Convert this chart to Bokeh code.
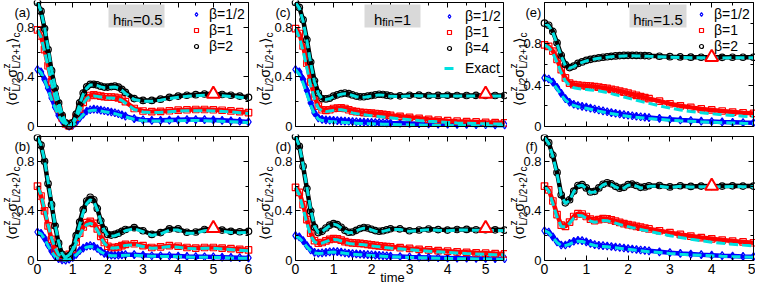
from bokeh.plotting import figure
from bokeh.models import (Range1d, LinearAxis, FixedTicker, Label, BoxAnnotation,
                          Legend, LegendItem)
from bokeh.layouts import column, row
from bokeh.embed import file_html
from bokeh.resources import INLINE

# ---------------- data ----------------
T_AB = [0.0,0.1,0.2,0.3,0.4,0.5,0.6,0.7,0.8,0.9,1.0,1.1,1.2,1.3,1.4,1.5,1.6,1.7,1.8,1.9,
        2.0,2.1,2.2,2.3,2.4,2.5,2.75,3.0,3.25,3.5,3.75,4.0,4.25,4.5,4.75,5.0,5.25,5.5,5.75,6.0]
T_CD = [0.0,0.1,0.2,0.3,0.4,0.5,0.6,0.7,0.8,0.9,1.0,1.1,1.2,1.3,1.4,1.5,1.6,1.7,1.8,1.9,
        2.0,2.1,2.2,2.3,2.4,2.5,2.75,3.0,3.25,3.5,3.75,4.0,4.25,4.5,4.75,5.0,5.25,5.5]
T_EF = [0.0,0.1,0.2,0.3,0.4,0.5,0.6,0.7,0.8,0.9,1.0,1.1,1.2,1.3,1.4,1.5,1.6,1.7,1.8,1.9,
        2.0,2.1,2.2,2.3,2.4,2.5,2.75,3.0,3.25,3.5,3.75,4.0,4.25,4.5,4.75,5.0]

# panel (a): h_fin = 0.5, nearest neighbour
A_HALF = [0.46,0.44,0.38,0.31,0.23,0.155,0.09,0.045,0.015,0.003,0.01,0.035,0.07,0.10,0.125,0.135,0.14,0.137,0.132,0.127,
          0.122,0.117,0.111,0.103,0.094,0.084,0.064,0.053,0.05,0.05,0.052,0.054,0.056,0.056,0.055,0.053,0.05,0.046,0.042,0.037]
A_ONE = [0.78,0.73,0.62,0.49,0.36,0.24,0.14,0.07,0.02,0.005,0.025,0.075,0.14,0.195,0.232,0.25,0.255,0.25,0.245,0.24,
         0.238,0.238,0.236,0.23,0.22,0.20,0.145,0.125,0.12,0.122,0.127,0.132,0.135,0.137,0.137,0.135,0.131,0.126,0.12,0.112]
A_TWO = [1.00,0.93,0.79,0.62,0.45,0.31,0.19,0.09,0.03,0.005,0.03,0.10,0.19,0.27,0.32,0.34,0.34,0.335,0.325,0.318,
         0.318,0.322,0.325,0.318,0.30,0.275,0.225,0.21,0.21,0.22,0.235,0.245,0.252,0.257,0.262,0.262,0.258,0.252,0.245,0.235]
A_HALF_EX = [0.46,0.435,0.375,0.30,0.22,0.15,0.087,0.043,0.014,0.003,0.009,0.032,0.065,0.095,0.118,0.128,0.132,0.13,0.125,0.12,
             0.115,0.11,0.104,0.096,0.087,0.078,0.058,0.047,0.044,0.044,0.046,0.047,0.048,0.048,0.047,0.045,0.042,0.039,0.035,0.031]
A_ONE_EX = [0.78,0.72,0.61,0.48,0.35,0.235,0.14,0.07,0.022,0.005,0.02,0.068,0.13,0.185,0.225,0.243,0.247,0.243,0.238,0.233,
            0.23,0.23,0.228,0.222,0.21,0.19,0.137,0.117,0.112,0.114,0.119,0.124,0.127,0.128,0.128,0.126,0.122,0.117,0.111,0.104]
A_TWO_EX = [1.00,0.93,0.80,0.63,0.46,0.32,0.20,0.10,0.035,0.005,0.025,0.09,0.18,0.26,0.31,0.335,0.335,0.33,0.32,0.312,
            0.312,0.316,0.318,0.31,0.292,0.267,0.218,0.203,0.203,0.212,0.226,0.236,0.243,0.248,0.252,0.252,0.248,0.242,0.236,0.227]

# panel (b): h_fin = 0.5, next-nearest neighbour
B_HALF = [0.23,0.22,0.18,0.125,0.075,0.035,0.015,0.005,0.003,0.01,0.025,0.05,0.08,0.10,0.115,0.12,0.115,0.097,0.075,0.058,
          0.048,0.043,0.042,0.043,0.045,0.047,0.047,0.043,0.038,0.038,0.038,0.036,0.033,0.031,0.03,0.029,0.027,0.025,0.023,0.021]
B_ONE = [0.60,0.52,0.40,0.28,0.17,0.09,0.045,0.025,0.03,0.05,0.09,0.15,0.22,0.27,0.305,0.315,0.30,0.255,0.195,0.145,
         0.115,0.105,0.105,0.11,0.12,0.13,0.135,0.12,0.105,0.11,0.12,0.115,0.105,0.10,0.105,0.105,0.10,0.095,0.09,0.085]
B_TWO = [0.99,0.93,0.80,0.62,0.45,0.28,0.14,0.05,0.02,0.04,0.10,0.20,0.31,0.41,0.48,0.51,0.49,0.42,0.32,0.25,
         0.21,0.205,0.21,0.22,0.235,0.25,0.265,0.24,0.21,0.225,0.255,0.255,0.228,0.23,0.25,0.255,0.245,0.235,0.232,0.235]
B_HALF_EX = [0.23,0.215,0.175,0.12,0.07,0.033,0.013,0.004,0.003,0.009,0.022,0.045,0.073,0.093,0.108,0.113,0.108,0.092,0.071,0.054,
             0.044,0.039,0.038,0.039,0.04,0.042,0.042,0.038,0.034,0.033,0.033,0.031,0.029,0.027,0.026,0.025,0.023,0.021,0.019,0.017]
B_ONE_EX = [0.60,0.53,0.41,0.29,0.18,0.10,0.048,0.025,0.027,0.045,0.082,0.14,0.205,0.255,0.29,0.30,0.288,0.245,0.188,0.14,
            0.11,0.1,0.1,0.104,0.113,0.122,0.127,0.113,0.099,0.103,0.112,0.107,0.098,0.094,0.098,0.098,0.093,0.088,0.083,0.078]
B_TWO_EX = [0.99,0.93,0.81,0.64,0.46,0.29,0.15,0.055,0.02,0.035,0.09,0.18,0.29,0.39,0.46,0.49,0.475,0.41,0.315,0.24,
            0.2,0.195,0.2,0.21,0.225,0.24,0.255,0.232,0.202,0.215,0.245,0.245,0.219,0.221,0.24,0.245,0.236,0.226,0.223,0.226]

# panel (c): h_fin = 1, nearest neighbour
C_HALF = [0.46,0.44,0.38,0.29,0.19,0.11,0.07,0.058,0.053,0.052,0.05,0.048,0.046,0.044,0.042,0.04,0.038,0.036,0.035,0.034,
          0.033,0.032,0.031,0.03,0.029,0.028,0.026,0.024,0.022,0.02,0.019,0.018,0.017,0.016,0.015,0.014,0.013,0.013]
C_ONE = [0.79,0.75,0.65,0.51,0.36,0.24,0.165,0.135,0.13,0.135,0.145,0.148,0.15,0.145,0.135,0.125,0.12,0.115,0.112,0.11,
         0.108,0.105,0.102,0.098,0.094,0.09,0.082,0.074,0.066,0.058,0.052,0.047,0.043,0.04,0.037,0.034,0.032,0.03]
C_FOUR = [1.00,0.96,0.86,0.70,0.52,0.37,0.27,0.225,0.222,0.228,0.245,0.255,0.265,0.27,0.265,0.255,0.245,0.24,0.24,0.245,
          0.25,0.255,0.26,0.258,0.253,0.248,0.247,0.252,0.253,0.25,0.251,0.252,0.25,0.25,0.251,0.25,0.25,0.25]
C_HALF_EX = [0.46,0.42,0.35,0.26,0.17,0.10,0.06,0.048,0.043,0.041,0.039,0.037,0.035,0.033,0.031,0.029,0.027,0.025,0.024,0.023,
             0.022,0.021,0.02,0.019,0.018,0.017,0.015,0.013,0.012,0.011,0.01,0.009,0.008,0.008,0.007,0.007,0.006,0.006]
C_ONE_EX = [0.79,0.72,0.61,0.47,0.33,0.22,0.15,0.125,0.12,0.125,0.13,0.135,0.135,0.13,0.12,0.11,0.104,0.098,0.094,0.09,
            0.087,0.084,0.08,0.077,0.073,0.07,0.062,0.055,0.048,0.042,0.037,0.033,0.029,0.026,0.024,0.022,0.02,0.019]
C_FOUR_EX = [1.00,0.955,0.85,0.69,0.51,0.36,0.265,0.222,0.218,0.224,0.24,0.25,0.26,0.265,0.26,0.25,0.24,0.235,0.235,0.24,
             0.245,0.25,0.255,0.253,0.248,0.243,0.242,0.247,0.248,0.245,0.246,0.247,0.245,0.245,0.246,0.245,0.245,0.245]

# panel (d): h_fin = 1, next-nearest neighbour
D_HALF = [0.20,0.19,0.16,0.12,0.085,0.065,0.06,0.062,0.066,0.07,0.072,0.071,0.067,0.062,0.058,0.055,0.053,0.051,0.049,0.047,
          0.045,0.043,0.041,0.039,0.037,0.035,0.032,0.029,0.027,0.025,0.023,0.021,0.019,0.018,0.017,0.016,0.015,0.014]
D_ONE = [0.59,0.55,0.45,0.33,0.22,0.16,0.14,0.145,0.158,0.17,0.177,0.175,0.165,0.152,0.145,0.142,0.14,0.138,0.135,0.13,
         0.126,0.122,0.118,0.115,0.112,0.11,0.104,0.097,0.09,0.085,0.08,0.075,0.07,0.066,0.062,0.059,0.056,0.054]
D_FOUR = [1.00,0.92,0.76,0.58,0.40,0.27,0.225,0.235,0.262,0.285,0.298,0.29,0.268,0.243,0.228,0.23,0.243,0.258,0.266,0.262,
          0.252,0.241,0.236,0.24,0.248,0.256,0.255,0.24,0.246,0.254,0.249,0.245,0.25,0.251,0.248,0.248,0.247,0.245]
D_HALF_EX = [0.20,0.18,0.15,0.11,0.078,0.06,0.056,0.058,0.062,0.066,0.068,0.067,0.063,0.058,0.054,0.051,0.049,0.047,0.045,0.043,
             0.041,0.039,0.037,0.035,0.033,0.031,0.028,0.025,0.023,0.021,0.019,0.017,0.015,0.014,0.013,0.012,0.011,0.01]
D_ONE_EX = [0.59,0.53,0.42,0.30,0.20,0.15,0.135,0.14,0.152,0.163,0.17,0.168,0.158,0.146,0.138,0.134,0.132,0.13,0.127,0.122,
            0.118,0.114,0.11,0.106,0.103,0.1,0.094,0.087,0.08,0.075,0.07,0.065,0.06,0.056,0.053,0.05,0.047,0.045]
D_FOUR_EX = [1.00,0.925,0.77,0.59,0.41,0.275,0.225,0.232,0.258,0.28,0.293,0.285,0.263,0.238,0.223,0.225,0.238,0.253,0.261,0.257,
             0.247,0.236,0.231,0.235,0.243,0.251,0.25,0.235,0.241,0.249,0.244,0.24,0.245,0.246,0.243,0.243,0.242,0.24]

# panel (e): h_fin = 1.5, nearest neighbour
E_HALF = [0.47,0.46,0.43,0.38,0.32,0.27,0.235,0.215,0.203,0.195,0.187,0.178,0.169,0.16,0.151,0.143,0.135,0.128,0.121,0.115,
          0.109,0.104,0.099,0.094,0.09,0.086,0.078,0.07,0.063,0.057,0.052,0.048,0.044,0.041,0.038,0.036]
E_ONE = [0.79,0.775,0.73,0.65,0.55,0.47,0.42,0.405,0.40,0.397,0.394,0.39,0.386,0.381,0.375,0.368,0.36,0.352,0.343,0.333,
         0.323,0.312,0.301,0.29,0.28,0.27,0.245,0.22,0.20,0.185,0.17,0.16,0.15,0.14,0.133,0.127]
E_TWO = [1.00,0.98,0.92,0.81,0.69,0.60,0.57,0.585,0.61,0.625,0.64,0.65,0.658,0.665,0.67,0.675,0.679,0.683,0.686,0.688,
         0.689,0.689,0.688,0.687,0.686,0.684,0.68,0.676,0.673,0.671,0.67,0.669,0.669,0.67,0.67,0.67]
E_HALF_EX = [0.47,0.455,0.42,0.365,0.305,0.255,0.222,0.203,0.192,0.184,0.176,0.167,0.158,0.149,0.141,0.133,0.125,0.118,0.111,0.105,
             0.099,0.094,0.089,0.085,0.081,0.077,0.069,0.061,0.055,0.05,0.045,0.041,0.037,0.034,0.031,0.029]
E_ONE_EX = [0.79,0.765,0.71,0.62,0.52,0.44,0.395,0.375,0.367,0.362,0.358,0.354,0.349,0.343,0.336,0.328,0.318,0.308,0.297,0.286,
            0.275,0.264,0.253,0.243,0.233,0.224,0.2,0.178,0.16,0.145,0.133,0.123,0.114,0.107,0.1,0.095]
E_TWO_EX = [1.00,0.975,0.91,0.80,0.68,0.59,0.565,0.58,0.605,0.62,0.635,0.645,0.653,0.66,0.665,0.67,0.674,0.678,0.681,0.683,
            0.684,0.684,0.683,0.682,0.681,0.679,0.675,0.671,0.668,0.666,0.665,0.664,0.664,0.665,0.665,0.665]

# panel (f): h_fin = 1.5, next-nearest neighbour
F_HALF = [0.24,0.23,0.19,0.15,0.125,0.125,0.138,0.155,0.163,0.16,0.15,0.138,0.128,0.123,0.12,0.117,0.113,0.109,0.105,0.101,
          0.097,0.093,0.089,0.085,0.081,0.078,0.07,0.063,0.057,0.052,0.047,0.043,0.039,0.036,0.033,0.031]
F_ONE = [0.60,0.57,0.48,0.37,0.285,0.275,0.31,0.355,0.378,0.375,0.355,0.333,0.322,0.33,0.337,0.335,0.327,0.317,0.307,0.298,
         0.29,0.283,0.276,0.269,0.262,0.255,0.24,0.225,0.21,0.197,0.185,0.175,0.165,0.157,0.15,0.143]
F_TWO = [0.99,0.95,0.85,0.71,0.53,0.465,0.49,0.56,0.605,0.612,0.585,0.553,0.558,0.585,0.615,0.627,0.618,0.598,0.583,0.59,
         0.612,0.616,0.605,0.59,0.593,0.603,0.605,0.593,0.603,0.597,0.6,0.598,0.6,0.602,0.6,0.6]
F_HALF_EX = [0.24,0.225,0.185,0.145,0.12,0.12,0.132,0.148,0.156,0.153,0.143,0.131,0.121,0.116,0.113,0.11,0.106,0.102,0.098,0.094,
             0.09,0.086,0.082,0.078,0.075,0.071,0.064,0.057,0.051,0.046,0.042,0.038,0.034,0.031,0.029,0.027]
F_ONE_EX = [0.60,0.56,0.46,0.35,0.275,0.27,0.3,0.342,0.363,0.36,0.34,0.318,0.308,0.315,0.322,0.32,0.312,0.301,0.29,0.281,
            0.273,0.265,0.258,0.25,0.243,0.236,0.218,0.2,0.185,0.171,0.159,0.148,0.139,0.131,0.124,0.118]
F_TWO_EX = [0.99,0.945,0.84,0.70,0.525,0.46,0.485,0.555,0.6,0.607,0.58,0.548,0.553,0.58,0.61,0.622,0.613,0.593,0.578,0.585,
            0.607,0.611,0.6,0.585,0.588,0.598,0.6,0.588,0.598,0.592,0.595,0.593,0.595,0.597,0.595,0.595]

# red triangle markers (one per panel a..f)
TRI_T = [5.0, 5.0, 5.0, 5.0, 4.0, 4.0]
TRI_Y = [0.262, 0.26, 0.262, 0.26, 0.67, 0.60]

PANEL_TAGS = ["(a)", "(b)", "(c)", "(d)", "(e)", "(f)"]
H_FIN = ["0.5", "1", "1.5"]
BETA_LABELS = [["\u03b2=1/2", "\u03b2=1", "\u03b2=2"],
               ["\u03b2=1/2", "\u03b2=1", "\u03b2=4"],
               ["\u03b2=1/2", "\u03b2=1", "\u03b2=2"]]
X_TICKS = [[0, 1, 2, 3, 4, 5, 6], [0, 1, 2, 3, 4, 5], [0, 1, 2, 3, 4, 5]]
X_MINOR = [[0.5, 1.5, 2.5, 3.5, 4.5, 5.5], [0.5, 1.5, 2.5, 3.5, 4.5], [0.5, 1.5, 2.5, 3.5, 4.5]]
X_END = [6.0, 5.47, 5.0]
Y_TICKS = [0, 0.4, 0.8]

# ---------------- styling / layout ----------------
FONT = "Liberation Sans"
BLUE, RED, BLACK, CYAN = "#0000ff", "#ff0000", "#000000", "#00e0e0"
FRAME_H = 124
COLS = [dict(w=253, bl=37, br=5), dict(w=254, bl=42, br=4), dict(w=248, bl=37, br=2)]
ROWS = [dict(h=134, bt=2, bb=8), dict(h=151, bt=2, bb=25)]
YLAB_DX = [[-26, -26], [-31, -31], [-26, -26]]
TAG_DX = [-23, -20, -19]


class Panel:
    """A figure whose frame is the whole canvas; the data box sits inside it."""

    def __init__(self, ci, ri):
        c, r = COLS[ci], ROWS[ri]
        self.W, self.H = c["w"], r["h"]
        self.bl, self.br, self.bt, self.bb = c["bl"], c["br"], r["bt"], r["bb"]
        self.fw = self.W - self.bl - self.br
        self.xe = X_END[ci]
        self.ye = 1.2 if (ci == 2 and ri == 0) else 1.0
        sx = self.xe / self.fw
        sy = self.ye / FRAME_H
        xs, xe2 = -self.bl * sx, self.xe + self.br * sx
        ys, ye2 = -self.bb * sy, self.ye + self.bt * sy
        self.sx, self.sy = sx, sy
        p = figure(width=self.W, height=self.H, x_range=Range1d(xs, xe2), y_range=Range1d(ys, ye2),
                   x_axis_type=None, y_axis_type=None, output_backend="svg", toolbar_location=None,
                   min_border=0)
        p.outline_line_color = None
        p.background_fill_color = "white"
        p.border_fill_color = "white"
        self.p = p
        ym = [0.2, 0.6, 1.0] + ([1.2] if self.ye > 1.1 else [])
        self.axis("below", 0, (0, self.xe), X_TICKS[ci], X_MINOR[ci], ri == 1, "14px")
        self.axis("above", self.ye, (0, self.xe), X_TICKS[ci], X_MINOR[ci], False, None)
        self.axis("left", 0, (0, self.ye), Y_TICKS, ym, True, "13px")
        self.axis("right", self.xe, (0, self.ye), Y_TICKS, ym, False, None)

    def axis(self, loc, fixed, bounds, ticks, minors, show, fsize):
        a = LinearAxis(ticker=FixedTicker(ticks=ticks, minor_ticks=minors),
                       fixed_location=fixed, bounds=bounds)
        a.axis_line_color = "black"
        a.major_tick_in, a.major_tick_out = 5, 0
        a.minor_tick_in, a.minor_tick_out = 3, 0
        a.major_tick_line_color = "black"
        a.minor_tick_line_color = "black"
        if show:
            a.major_label_text_font = FONT
            a.major_label_text_font_size = fsize
            a.major_label_text_color = "black"
            a.major_label_standoff = 3
            a.major_label_overrides = {0: "0"}
        else:
            a.major_label_text_color = None
            a.major_label_standoff = 0
        self.p.add_layout(a, loc)

    def text(self, s, px, py, size, angle=0, align="left"):
        """px from canvas left, py from canvas bottom (baseline)"""
        p = self.p
        p.add_layout(Label(x=p.x_range.start, y=p.y_range.start, x_offset=px, y_offset=py,
                           text=s, text_font=FONT, text_font_size=f"{size}px",
                           text_color="black", angle=angle, angle_units="deg",
                           text_align=align, text_baseline="alphabetic"))

    def ylabel(self, nxt, bx, sy0):
        parts = [("\u27e8\u03c3", 0, 0, 14), ("z", 14, 5, 10), ("L/2", 14, -4.5, 10),
                 ("\u03c3", 28, 0, 14), ("z", 37, 5, 10), ("L/2+" + nxt, 37, -4.5, 10),
                 ("\u27e9", 62.5, 0, 14), ("c", 68, -4.5, 10)]
        for s, u, v, fs in parts:
            self.text(s, self.bl + bx - v, self.bb + sy0 + u, fs, angle=90)


DATA = {
    (0, 0): (T_AB, [A_HALF, A_ONE, A_TWO], [A_HALF_EX, A_ONE_EX, A_TWO_EX]),
    (0, 1): (T_AB, [B_HALF, B_ONE, B_TWO], [B_HALF_EX, B_ONE_EX, B_TWO_EX]),
    (1, 0): (T_CD, [C_HALF, C_ONE, C_FOUR], [C_HALF_EX, C_ONE_EX, C_FOUR_EX]),
    (1, 1): (T_CD, [D_HALF, D_ONE, D_FOUR], [D_HALF_EX, D_ONE_EX, D_FOUR_EX]),
    (2, 0): (T_EF, [E_HALF, E_ONE, E_TWO], [E_HALF_EX, E_ONE_EX, E_TWO_EX]),
    (2, 1): (T_EF, [F_HALF, F_ONE, F_TWO], [F_HALF_EX, F_ONE_EX, F_TWO_EX]),
}
COLORS = [BLUE, RED, BLACK]
MARKERS = ["diamond", "square", "circle"]
MSIZE = [8, 6.5, 6.5]

LEG_LEFT = [154, 149, 152]
LEG_STANDOFF = [8, 11, 8]
LEG_TOP = [3, 5, 3]
ITEM_H = 17
SPACING = -1
HBOX = [(71, 127, 75.5), (69, 125, 78.5), (85, 142, 88.8)]


def legend_kw(ci):
    return dict(background_fill_alpha=0, border_line_alpha=0, padding=0, margin=0,
                glyph_width=10, glyph_height=12, label_height=12,
                label_standoff=LEG_STANDOFF[ci], label_text_font=FONT,
                label_text_font_size="14px", label_text_color="black")


panels = {}
for ci in range(3):
    for ri in range(2):
        P = Panel(ci, ri)
        p = P.p
        t, ys, exs = DATA[(ci, ri)]
        marker_renderers = []
        for y, col, mk, ms in zip(ys, COLORS, MARKERS, MSIZE):
            p.line(t, y, line_color=col, line_width=4.5)
            marker_renderers.append(p.scatter(t, y, marker=mk, size=ms, line_color=col,
                                              fill_color=None, line_width=1.2))
        exact_renderers = []
        for ex in exs:
            exact_renderers.append(p.line(t, ex, line_color=CYAN, line_width=3, line_dash="9 4"))
        k = ci * 2 + ri
        p.scatter([TRI_T[k]], [TRI_Y[k]], marker="triangle", size=13, line_color=RED,
                  line_width=2, fill_color="white")
        # panel tag and y label
        P.text(PANEL_TAGS[k], P.bl + TAG_DX[ci], P.H - P.bt - 10, 13)
        P.ylabel("1" if ri == 0 else "2", YLAB_DX[ci][ri], 21)
        if ri == 0:
            # h_fin box
            bl, br, hx = HBOX[ci]
            p.add_layout(BoxAnnotation(left=bl * P.sx, right=br * P.sx,
                                       top=P.ye - 2 * P.sy, bottom=P.ye - 25 * P.sy,
                                       fill_color="#d9d9d9", fill_alpha=1.0, line_alpha=0))
            top_base = P.bb + FRAME_H
            P.text("h", P.bl + hx, top_base - 17, 15)
            P.text("fin", P.bl + hx + 8.3, top_base - 19.5, 11)
            P.text("=" + H_FIN[ci], P.bl + hx + 8.3 + 11.6, top_base - 17, 15)
            # legend
            items = [LegendItem(label=lab, renderers=[rr])
                     for lab, rr in zip(BETA_LABELS[ci], marker_renderers)]
            n = len(items)
            leg_h = n * ITEM_H + (n - 1) * SPACING
            leg = Legend(items=items, spacing=SPACING,
                         location=(P.bl + LEG_LEFT[ci], P.bb + FRAME_H - LEG_TOP[ci] - leg_h),
                         **legend_kw(ci))
            p.add_layout(leg)
            if ci == 1:
                leg2 = Legend(items=[LegendItem(label="Exact", renderers=[exact_renderers[0]])],
                              location=(P.bl + LEG_LEFT[ci], P.bb + FRAME_H - 57 - ITEM_H),
                              **legend_kw(ci))
                p.add_layout(leg2)
        if ci == 1 and ri == 1:
            P.text("time", P.bl + 97, 8, 13, align="center")
        panels[(ci, ri)] = p

layout = column(row(panels[(0, 0)], panels[(1, 0)], panels[(2, 0)]),
                row(panels[(0, 1)], panels[(1, 1)], panels[(2, 1)]))

open("out.html", "w").write(file_html(layout, INLINE))
